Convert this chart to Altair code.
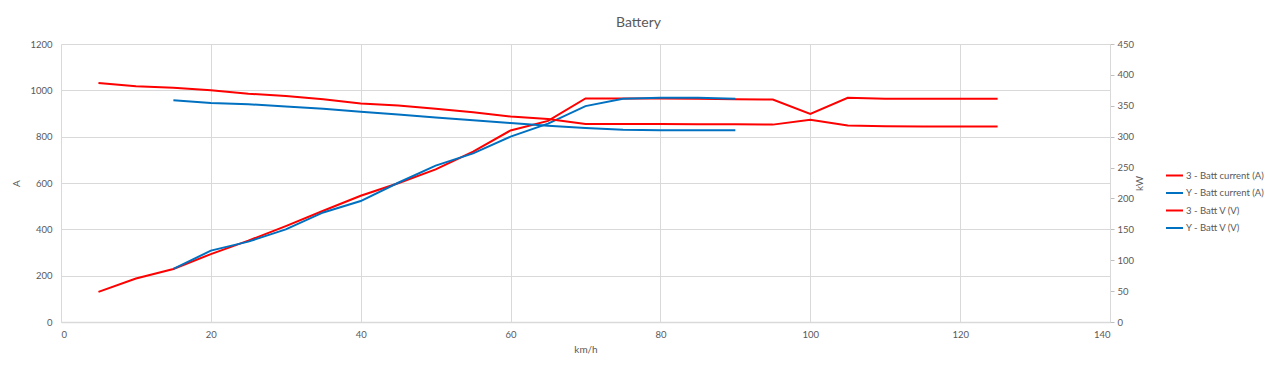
import altair as alt
import pandas as pd

# ---- data ----
speed_3 = [5, 10, 15, 20, 25, 30, 35, 40, 45, 50, 55, 60, 65, 70, 75, 80, 85, 90, 95, 100, 105, 110, 115, 120, 125]
speed_Y = [15, 20, 25, 30, 35, 40, 45, 50, 55, 60, 65, 70, 75, 80, 85, 90]

current_3 = [130, 188, 229, 293, 351, 414, 480, 545, 599, 659, 735, 827, 868, 965, 965, 965, 964, 962, 960, 898, 968, 964, 964, 964, 964]
current_Y = [229, 308, 347, 400, 473, 522, 601, 675, 728, 800, 856, 932, 964, 968, 968, 964]

volt_3 = [387, 381.5, 379, 375, 369.5, 366, 360.5, 353.5, 350.5, 345, 339.5, 332.5, 328.5, 320.5, 320.5, 320.5, 320, 320, 319.5, 327.5, 318, 317, 316.5, 316.5, 316.5]
volt_Y = [359, 354.5, 352.5, 349, 345, 340.5, 336, 331, 326.5, 322, 317.5, 314, 311, 310.5, 310.5, 310.5]

series_names = ["3 - Batt current (A)", "Y - Batt current (A)", "3 - Batt V (V)", "Y - Batt V (V)"]
series_colors = ["#FF0000", "#0070C0", "#FF0000", "#0070C0"]

x_ticks = [0, 20, 40, 60, 80, 100, 120, 140]
a_ticks = [0, 200, 400, 600, 800, 1000, 1200]
kw_ticks = [0, 50, 100, 150, 200, 250, 300, 350, 400, 450]

def frame(speeds, values, name):
    return pd.DataFrame({"speed": speeds, "value": values, "series": name})

cur_df = pd.concat([frame(speed_3, current_3, series_names[0]),
                    frame(speed_Y, current_Y, series_names[1])], ignore_index=True)
volt_df = pd.concat([frame(speed_3, volt_3, series_names[2]),
                     frame(speed_Y, volt_Y, series_names[3])], ignore_index=True)

FONT = "Lato"
TXT = "#595959"
GRID = "#d9d9d9"

x_enc = alt.X("speed:Q",
              scale=alt.Scale(domain=[0, 140], nice=False, zero=False),
              axis=alt.Axis(values=x_ticks, title="km/h", grid=True, gridColor=GRID,
                            domain=True, domainColor=GRID, domainWidth=1.5, ticks=False,
                            labelPadding=7, titlePadding=6, format="d"))

color_enc = alt.Color("series:N",
                      scale=alt.Scale(domain=series_names, range=series_colors),
                      legend=alt.Legend(title=None, orient="none", legendX=1104, legendY=122,
                                        symbolType="stroke", symbolSize=289, symbolStrokeWidth=2,
                                        labelFontSize=9.5, labelColor=TXT, labelFont=FONT,
                                        rowPadding=3.5, labelOffset=2, labelLimit=200))

cur_layer = alt.Chart(cur_df).mark_line(strokeWidth=2).encode(
    x=x_enc,
    y=alt.Y("value:Q",
            scale=alt.Scale(domain=[0, 1200], nice=False),
            axis=alt.Axis(values=a_ticks, title="A", grid=True, gridColor=GRID,
                          domain=False, ticks=False, labelPadding=9, titlePadding=8,
                          orient="left", format="d")),
    color=color_enc,
    detail="series:N",
)

volt_layer = alt.Chart(volt_df).mark_line(strokeWidth=2).encode(
    x=x_enc,
    y=alt.Y("value:Q",
            scale=alt.Scale(domain=[0, 450], nice=False),
            axis=alt.Axis(values=kw_ticks, title="kW", grid=False, titleAngle=270,
                          domain=True, domainColor=GRID, ticks=True, tickSize=4,
                          tickColor="#bfbfbf", labelPadding=3, titlePadding=11,
                          orient="right", format="d")),
    color=color_enc,
    detail="series:N",
)

chart = alt.layer(cur_layer, volt_layer).resolve_scale(y="independent").properties(
    width=1049,
    height=278,
    autosize=alt.AutoSizeParams(type="none"),
    padding={"left": 61, "top": 44, "right": 170, "bottom": 54},
    title=alt.Title("Battery", fontSize=14, font=FONT, color=TXT, fontWeight="normal",
                    anchor="middle", offset=9, dx=53),
    background="white",
).configure_view(stroke=None).configure_axis(
    labelFont=FONT, titleFont=FONT, labelColor=TXT, titleColor=TXT,
    labelFontSize=9.5, titleFontSize=10, titleFontWeight="normal",
)

chart.save("out.html", embed_options={"renderer": "svg", "actions": False})
